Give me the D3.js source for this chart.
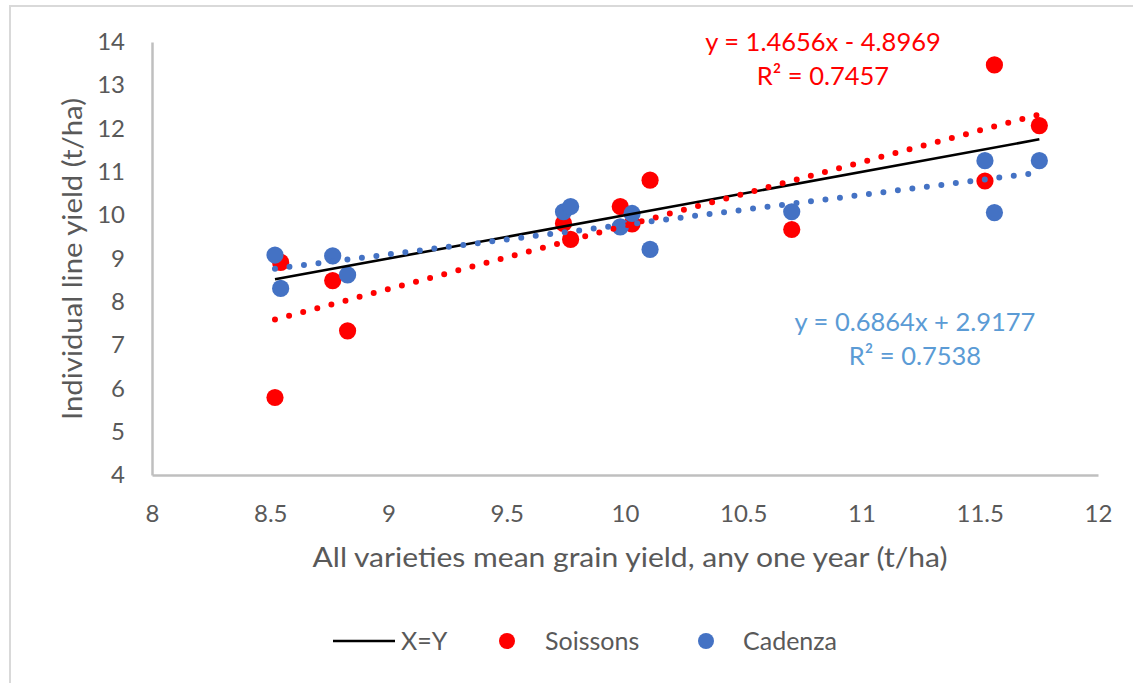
<!DOCTYPE html>
<html>
<head>
<meta charset="utf-8">
<script src="https://cdn.jsdelivr.net/npm/d3@7"></script>
<style>
  body { margin: 0; background: #fff; }
  svg text { font-family: Lato, "Open Sans", sans-serif; fill: #595959; }
</style>
</head>
<body>
<svg id="chart" width="1133" height="683"></svg>
<script>
// mean yield of all varieties per year (x) and the two lines (y)
const meanYield = [8.52, 8.544, 8.764, 8.827, 9.74, 9.77, 9.98, 10.03, 10.106, 10.705, 11.522, 11.562, 11.752];
const soissons  = [5.79, 8.91, 8.49, 7.33, 9.81, 9.44, 10.2, 9.8, 10.81, 9.67, 10.79, 13.47, 12.07];
const cadenza   = [9.08, 8.31, 9.06, 8.62, 10.08, 10.2, 9.73, 10.04, 9.21, 10.08, 11.26, 10.06, 11.26];

// trendline coefficients as printed on the chart
const soissonsFit = [1.4656, -4.8969];
const cadenzaFit  = [0.6864, 2.9177];
const fitLabels = [
    ["y = 1.4656x - 4.8969", "R² = 0.7457"],
    ["y = 0.6864x + 2.9177", "R² = 0.7538"]
];

const xTicks = [8, 8.5, 9, 9.5, 10, 10.5, 11, 11.5, 12];
const yTicks = [4, 5, 6, 7, 8, 9, 10, 11, 12, 13, 14];
const legendNames = ["X=Y", "Soissons", "Cadenza"];

const red = "#ff0000", blue = "#4472c4", axisGrey = "#bfbfbf";

var svg = d3.select("#chart");

// outer chart border (right/bottom run off the picture)
svg.append("rect")
    .attr("x", 10).attr("y", 6)
    .attr("width", 1140).attr("height", 700)
    .attr("fill", "#fff")
    .attr("stroke", "#d9d9d9")
    .attr("stroke-width", 2);

var xScale = d3.scaleLinear().domain([8, 12]).range([152, 1098]);
var yScale = d3.scaleLinear().domain([4, 14]).range([475, 42]);

// axes
var xAxis = svg.append("g")
    .attr("transform", `translate(0, ${yScale(4)})`)
    .call(d3.axisBottom(xScale).tickValues(xTicks).tickSize(0).tickFormat(d => d));
xAxis.select(".domain").attr("stroke", axisGrey).attr("stroke-width", 2.5);
xAxis.selectAll("text")
    .attr("y", 39).attr("dy", "0.35em")
    .style("font-size", "24px");

var yAxis = svg.append("g")
    .attr("transform", `translate(${xScale(8)}, 0)`)
    .call(d3.axisLeft(yScale).tickValues(yTicks).tickSize(0).tickPadding(27).tickFormat(d => d));
yAxis.select(".domain").attr("stroke", axisGrey).attr("stroke-width", 2.5);
yAxis.selectAll("text").style("font-size", "24px");

// axis titles
svg.append("text")
    .attr("x", 630).attr("y", 558).attr("dy", "0.35em")
    .attr("text-anchor", "middle")
    .attr("textLength", 635)
    .attr("lengthAdjust", "spacingAndGlyphs")
    .style("font-size", "27px")
    .text("All varieties mean grain yield, any one year (t/ha)");

svg.append("text")
    .attr("transform", "translate(73, 259) rotate(-90)")
    .attr("dy", "0.35em")
    .attr("text-anchor", "middle")
    .attr("textLength", 322)
    .attr("lengthAdjust", "spacingAndGlyphs")
    .style("font-size", "27px")
    .text("Individual line yield (t/ha)");

// markers
var pointsRed = meanYield.map((x, i) => [x, soissons[i]]);
var pointsBlue = meanYield.map((x, i) => [x, cadenza[i]]);

svg.append("g").selectAll("circle")
    .data(pointsRed)
    .enter().append("circle")
    .attr("cx", d => xScale(d[0]))
    .attr("cy", d => yScale(d[1]))
    .attr("r", 8.6)
    .attr("fill", red);

svg.append("g").selectAll("circle")
    .data(pointsBlue)
    .enter().append("circle")
    .attr("cx", d => xScale(d[0]))
    .attr("cy", d => yScale(d[1]))
    .attr("r", 8.6)
    .attr("fill", blue);

// X=Y line over the data range
var xMin = d3.min(meanYield), xMax = d3.max(meanYield);
var line = d3.line().x(d => xScale(d[0])).y(d => yScale(d[1]));

svg.append("path")
    .datum([[xMin, xMin], [xMax, xMax]])
    .attr("d", line)
    .attr("fill", "none")
    .attr("stroke", "#000")
    .attr("stroke-width", 2.6);

// dotted linear trendlines
function trend(fit, color) {
    svg.append("path")
        .datum([xMin, xMax].map(x => [x, fit[0] * x + fit[1]]))
        .attr("d", line)
        .attr("fill", "none")
        .attr("stroke", color)
        .attr("stroke-width", 6)
        .attr("stroke-linecap", "round")
        .attr("stroke-dasharray", "0 14.6");
}
trend(soissonsFit, red);
trend(cadenzaFit, blue);

// equation labels
function eqLabel(lines, cx, cy, color) {
    lines.forEach((t, i) => {
        svg.append("text")
            .attr("x", cx).attr("y", cy + i * 34).attr("dy", "0.35em")
            .attr("text-anchor", "middle")
            .style("font-size", "25.5px")
            .style("fill", color)
            .text(t);
    });
}
eqLabel(fitLabels[0], 823, 42, red);
eqLabel(fitLabels[1], 915, 322, "#5b9bd5");

// legend
var legend = svg.append("g").attr("transform", "translate(0, 641)");
legend.append("line")
    .attr("x1", 333).attr("x2", 395)
    .attr("stroke", "#000").attr("stroke-width", 2.6);
legend.append("text").attr("x", 401).attr("dy", "0.35em")
    .style("font-size", "25px").text(legendNames[0]);

legend.append("circle").attr("cx", 507).attr("r", 8).attr("fill", red);
legend.append("text").attr("x", 545).attr("dy", "0.35em")
    .style("font-size", "25px").text(legendNames[1]);

legend.append("circle").attr("cx", 706).attr("r", 8).attr("fill", blue);
legend.append("text").attr("x", 743).attr("dy", "0.35em")
    .style("font-size", "25px").text(legendNames[2]);
</script>
</body>
</html>
